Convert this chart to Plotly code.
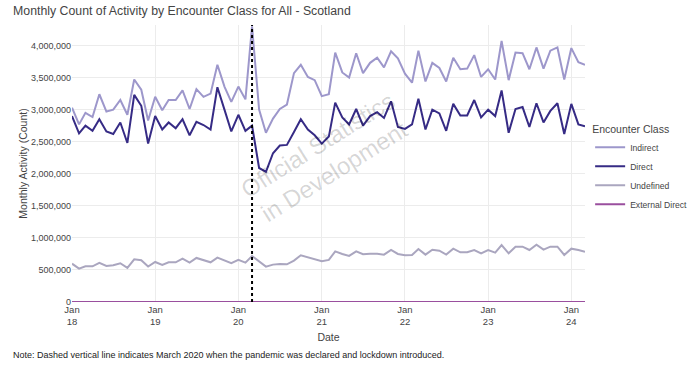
import plotly.graph_objects as go
import pandas as pd

months = pd.date_range("2018-01-01", "2024-03-01", freq="MS")

indirect = [3030000, 2770000, 2950000, 2885000, 3240000, 2970000, 3000000, 3150000, 2920000, 3470000,
            3310000, 2830000, 3200000, 2990000, 3150000, 3150000, 3300000, 3010000, 3320000, 3200000,
            3250000, 3700000, 3360000, 3120000, 3360000, 3160000, 4300000, 3000000, 2640000, 2860000,
            3010000, 3080000, 3570000, 3700000, 3510000, 3460000, 3210000, 3240000, 3890000, 3580000,
            3500000, 3880000, 3570000, 3730000, 3810000, 3660000, 3910000, 3800000, 3560000, 3420000,
            3920000, 3440000, 3730000, 3650000, 3440000, 3810000, 3630000, 3640000, 3850000, 3510000,
            3630000, 3470000, 4070000, 3460000, 3890000, 3880000, 3630000, 3970000, 3640000, 3920000,
            3970000, 3470000, 3960000, 3740000, 3700000]

direct = [2900000, 2630000, 2750000, 2670000, 2850000, 2660000, 2620000, 2800000, 2480000, 3230000,
          3060000, 2470000, 2900000, 2690000, 2800000, 2710000, 2850000, 2600000, 2810000, 2760000,
          2690000, 3350000, 3000000, 2660000, 2920000, 2670000, 2750000, 2090000, 2030000, 2320000,
          2440000, 2450000, 2650000, 2850000, 2690000, 2600000, 2470000, 2580000, 3110000, 2880000,
          2770000, 3010000, 2750000, 2900000, 2960000, 2870000, 3130000, 2730000, 2700000, 2770000,
          3170000, 2690000, 3000000, 2940000, 2670000, 3090000, 2910000, 2910000, 3150000, 2880000,
          3000000, 2900000, 3300000, 2640000, 3010000, 3040000, 2730000, 3100000, 2800000, 2980000,
          3100000, 2620000, 3090000, 2770000, 2740000]

undefined = [598000, 520000, 557000, 557000, 609000, 562000, 573000, 604000, 531000, 666000,
             650000, 552000, 624000, 578000, 619000, 619000, 676000, 614000, 687000, 656000,
             619000, 692000, 645000, 604000, 656000, 614000, 718000, 630000, 552000, 583000,
             593000, 588000, 645000, 728000, 697000, 676000, 635000, 656000, 790000, 749000,
             718000, 790000, 744000, 754000, 754000, 739000, 811000, 749000, 728000, 733000,
             827000, 739000, 816000, 801000, 739000, 832000, 775000, 775000, 811000, 759000,
             811000, 770000, 889000, 759000, 863000, 863000, 811000, 894000, 816000, 863000,
             863000, 733000, 832000, 811000, 785000]

external_direct = [0, 0, 0, 0, 0, 0, 0, 0, 0, 0, 0, 0, 0, 0, 0, 0, 0, 0, 0, 0,
                   0, 0, 0, 0, 0, 0, 0, 0, 0, 0, 0, 0, 0, 0, 0, 0, 0, 0, 0, 0,
                   0, 0, 0, 0, 0, 0, 0, 0, 0, 0, 0, 0, 0, 0, 0, 0, 0, 0, 0, 0,
                   0, 0, 0, 0, 0, 0, 0, 0, 0, 0, 0, 0, 0, 0, 0]

series_names = ["Indirect", "Direct", "Undefined", "External Direct"]
series_colors = ["#9d97cb", "#362b85", "#aaa6bf", "#9a4f9e"]
pandemic_date = "2020-03-01"

font = "Liberation Sans, Arial, sans-serif"
fig = go.Figure()
for name, vals, col in zip(series_names, [indirect, direct, undefined, external_direct], series_colors):
    fig.add_trace(go.Scatter(x=months, y=vals, mode="lines", name=name,
                             line=dict(color=col, width=2)))

fig.add_shape(type="line", xref="x", yref="paper", x0=pandemic_date, x1=pandemic_date,
              y0=0, y1=1, line=dict(color="black", width=2, dash="dot"))

fig.add_annotation(text="Official Statistics<br>in Development", xref="paper", yref="paper",
                   x=0.495, y=0.52, showarrow=False, textangle=-32,
                   font=dict(family=font, size=24, color="rgba(0,0,0,0.17)"))

fig.add_annotation(text="Note: Dashed vertical line indicates March 2020 when the pandemic was declared and lockdown introduced.",
                   xref="paper", yref="paper", x=-0.119, y=-0.191, xanchor="left", yanchor="middle",
                   showarrow=False, font=dict(family=font, size=9, color="#222"))

fig.update_layout(
    width=690, height=365,
    margin=dict(l=72, r=105, t=25, b=63, autoexpand=False),
    paper_bgcolor="white", plot_bgcolor="white",
    font=dict(family=font, size=9, color="#444"),
    title=dict(text="Monthly Count of Activity by Encounter Class for All - Scotland",
               x=0.019, xanchor="left", xref="container", y=0.971, yref="container", yanchor="middle",
               font=dict(family=font, size=12.3, color="#444")),
    legend=dict(title=dict(text="Encounter Class", font=dict(size=10.5, color="#444")),
                x=1.01, xanchor="left", y=0.48, yanchor="middle", itemwidth=30,
                font=dict(size=8.6, color="#444"), tracegroupgap=0),
    showlegend=True,
)
fig.update_xaxes(type="date", range=["2018-01-01", "2024-03-01"], dtick="M12", tick0="2018-01-01",
                 tickformat="%b<br>%y", showgrid=True, gridcolor="#ececec", zeroline=False,
                 title=dict(text="Date", font=dict(size=10.5, color="#444"), standoff=7),
                 tickfont=dict(size=9.5, color="#444"), showline=False, automargin=False)
fig.update_yaxes(range=[0, 4320000], tickvals=[0, 500000, 1000000, 1500000, 2000000, 2500000, 3000000, 3500000, 4000000],
                 tickformat=",", showgrid=True, gridcolor="#ececec", zeroline=False,
                 title=dict(text="Monthly Activity (Count)", font=dict(size=10.5, color="#444"), standoff=1),
                 tickfont=dict(size=9, color="#444"), automargin=False)

fig.write_html("out.html", config={"displayModeBar": False},
               post_script="document.body.style.margin='0px';")
